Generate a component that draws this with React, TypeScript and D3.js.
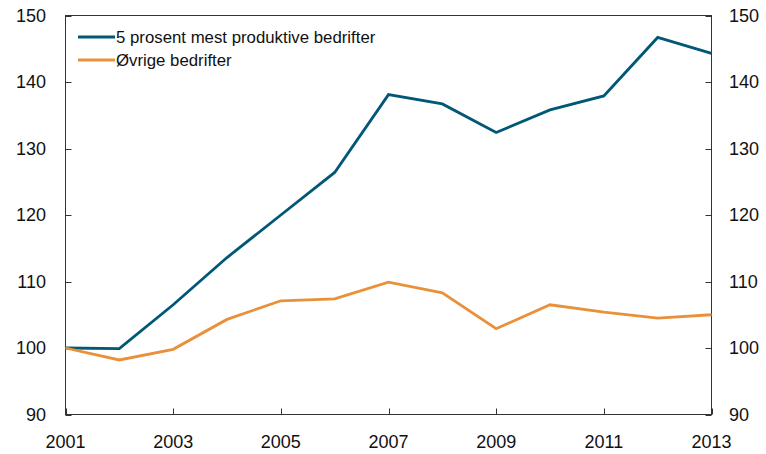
import React, { useEffect, useRef } from 'react'
import * as d3 from 'd3'

const years = [2001, 2002, 2003, 2004, 2005, 2006, 2007, 2008, 2009, 2010, 2011, 2012, 2013]
const topFirms = [100, 99.9, 106.5, 113.6, 120, 126.4, 138.1, 136.7, 132.4, 135.8, 137.9, 146.7, 144.3]
const otherFirms = [100, 98.2, 99.8, 104.3, 107.1, 107.4, 109.9, 108.3, 102.9, 106.5, 105.4, 104.5, 105.0]
const yTicks = [90, 100, 110, 120, 130, 140, 150]
const xTicks = [2001, 2003, 2005, 2007, 2009, 2011, 2013]
const seriesNames = ['5 prosent mest produktive bedrifter', 'Øvrige bedrifter']

const W = 766
const H = 454
const FONT = '"Liberation Sans", Arial, Helvetica, sans-serif'

export default function App() {
  const svgRef = useRef<SVGSVGElement>(null)

  useEffect(() => {
    const svg = d3.select(svgRef.current)
    svg.selectAll('*').remove()

    const m = { left: 65.5, right: 711.5, top: 15.5, bottom: 414.5 }
    const x = d3.scaleLinear().domain([2001, 2013]).range([m.left, m.right])
    const y = d3.scaleLinear().domain([90, 150]).range([m.bottom, m.top])

    const series = [
      { name: seriesNames[0], values: topFirms, color: '#005776' },
      { name: seriesNames[1], values: otherFirms, color: '#E8913A' },
    ]

    // frame
    svg.append('rect')
      .attr('x', m.left).attr('y', m.top)
      .attr('width', m.right - m.left).attr('height', m.bottom - m.top)
      .attr('fill', 'none').attr('stroke', '#333').attr('stroke-width', 1)

    // y ticks both sides, pointing inward
    yTicks.forEach(t => {
      const yy = Math.round(y(t)) + 0.5
      svg.append('line').attr('x1', m.left).attr('x2', m.left + 6).attr('y1', yy).attr('y2', yy)
        .attr('stroke', '#333')
      svg.append('line').attr('x1', m.right - 6).attr('x2', m.right).attr('y1', yy).attr('y2', yy)
        .attr('stroke', '#333')
      svg.append('text').attr('x', 46).attr('y', y(t)).attr('dy', '0.35em')
        .attr('text-anchor', 'end').attr('font-size', 18).attr('font-family', FONT)
        .attr('fill', '#111').text(t)
      svg.append('text').attr('x', 729).attr('y', y(t)).attr('dy', '0.35em')
        .attr('text-anchor', 'start').attr('font-size', 18).attr('font-family', FONT)
        .attr('fill', '#111').text(t)
    })

    // x ticks
    xTicks.forEach(t => {
      const xx = Math.round(x(t)) + 0.5
      svg.append('line').attr('x1', xx).attr('x2', xx).attr('y1', m.bottom - 6).attr('y2', m.bottom)
        .attr('stroke', '#333')
      svg.append('text').attr('x', x(t)).attr('y', 448)
        .attr('text-anchor', 'middle').attr('font-size', 18).attr('font-family', FONT)
        .attr('fill', '#111').text(t)
    })

    const line = d3.line<number>()
      .x((_, i) => x(years[i]))
      .y(d => y(d))

    series.forEach(s => {
      svg.append('path').datum(s.values)
        .attr('d', line)
        .attr('fill', 'none')
        .attr('stroke', s.color)
        .attr('stroke-width', 2.8)
        .attr('stroke-linejoin', 'miter')
    })

    // legend
    series.forEach((s, i) => {
      const ly = 37 + i * 23
      svg.append('line').attr('x1', 78).attr('x2', 115).attr('y1', ly).attr('y2', ly)
        .attr('stroke', s.color).attr('stroke-width', 2.8)
      svg.append('text').attr('x', 116).attr('y', ly).attr('dy', '0.35em')
        .attr('font-size', 16.8).attr('font-family', FONT).attr('fill', '#111')
        .text(s.name)
    })
  }, [])

  return (
    <svg ref={svgRef} width={W} height={H}
      style={{ position: 'absolute', left: 0, top: 0, background: '#fff' }} />
  )
}
